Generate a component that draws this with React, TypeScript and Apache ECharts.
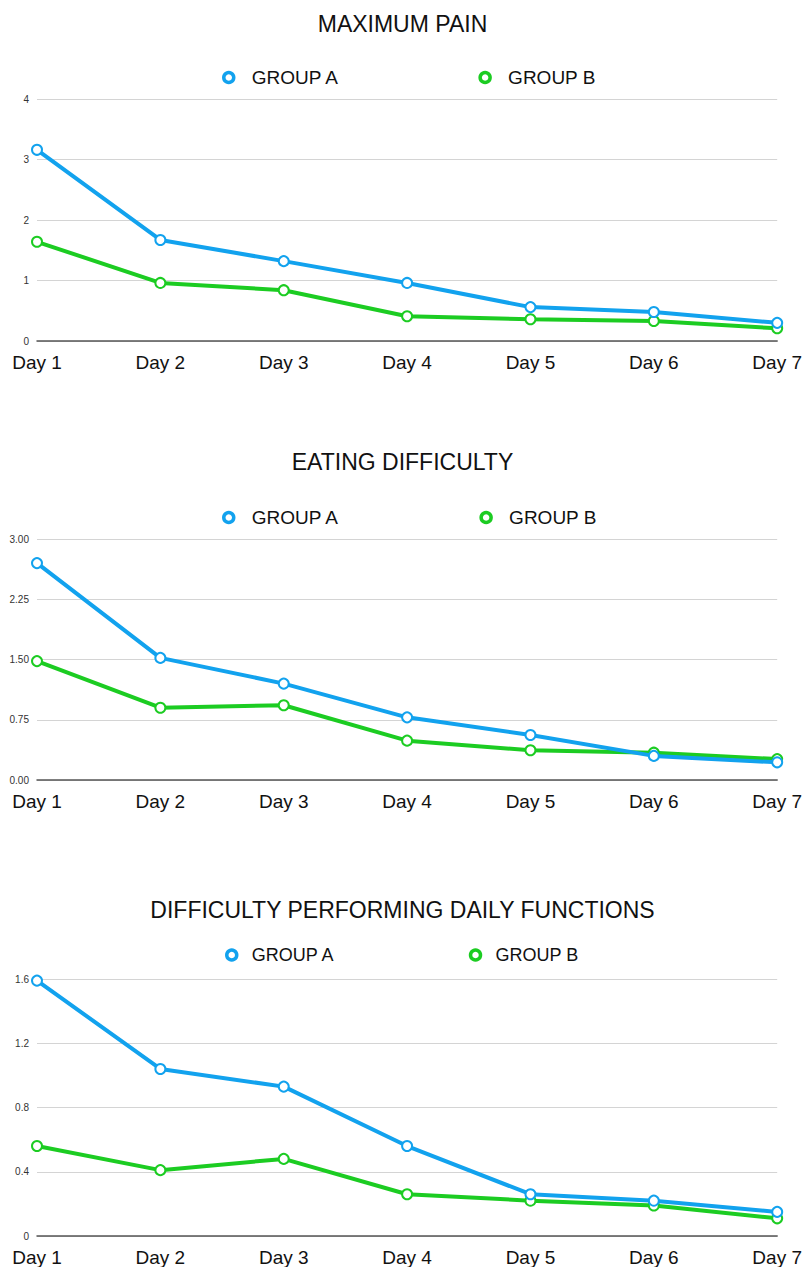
import React, { useEffect, useRef } from "react";
import * as echarts from "echarts";

const days = ["Day 1", "Day 2", "Day 3", "Day 4", "Day 5", "Day 6", "Day 7"];
const seriesNames = ["GROUP A", "GROUP B"];
const titles = ["MAXIMUM PAIN", "EATING DIFFICULTY", "DIFFICULTY PERFORMING DAILY FUNCTIONS"];

const painA = [3.16, 1.67, 1.32, 0.96, 0.56, 0.48, 0.3];
const painB = [1.64, 0.96, 0.84, 0.41, 0.36, 0.33, 0.21];

const eatingA = [2.7, 1.52, 1.2, 0.78, 0.56, 0.3, 0.22];
const eatingB = [1.48, 0.9, 0.93, 0.49, 0.37, 0.34, 0.26];

const dailyA = [1.59, 1.04, 0.93, 0.56, 0.26, 0.22, 0.15];
const dailyB = [0.56, 0.41, 0.48, 0.26, 0.22, 0.19, 0.11];

const yAxes = [
  { min: 0, max: 4, interval: 1, decimals: 0 },
  { min: 0, max: 3, interval: 0.75, decimals: 2 },
  { min: 0, max: 1.6, interval: 0.4, decimals: -1 },
];

const COLOR_A = "#12a2ee";
const COLOR_B = "#1ccc22";
const FONT = "'Liberation Sans', Arial, Helvetica, sans-serif";

export default function App() {
  const ref = useRef<HTMLDivElement>(null);
  useEffect(() => {
    if (!ref.current) return;
    const chart = echarts.init(ref.current, null, { renderer: "svg" });
    const data = [
      [painA, painB],
      [eatingA, eatingB],
      [dailyA, dailyB],
    ];
    const gridTops = [99, 539, 979];
    const gridHeights = [242, 241, 257];
    const titleTops = [7, 445, 893];
    const legendTops = [63, 503, 941];
    const legendLefts = [217, 217, 220];
    const legendGaps = [139, 140, 134];
    const legendFont = [19, 19, 18];
    const legendPad = [13, 13, 10];
    const colors = [COLOR_A, COLOR_B];

    const series: any[] = [];
    data.forEach((pair, gi) => {
      pair.forEach((vals, si) => {
        const c = colors[si];
        series.push({
          type: "line",
          name: seriesNames[si],
          xAxisIndex: gi,
          yAxisIndex: gi,
          data: vals,
          symbol: "emptyCircle",
          symbolSize: 10,
          lineStyle: { color: c, width: 4 },
          itemStyle: { color: c, borderColor: c, borderWidth: 3 },
          z: si === 0 ? 3 : 2,
        });
      });
    });

    chart.setOption({
      animation: false,
      backgroundColor: "#ffffff",
      title: titles.map((t, i) => ({
        text: t,
        left: "center",
        top: titleTops[i],
        textStyle: { fontFamily: FONT, fontSize: 23, fontWeight: "normal", color: "#111" },
      })),
      legend: [0, 1, 2].map((i) => ({
        data: seriesNames.map((n, si) => ({
          name: n,
          icon: "circle",
          itemStyle: { color: "#ffffff", borderColor: colors[si], borderWidth: 3.5 },
        })),
        top: legendTops[i],
        left: legendLefts[i],
        itemGap: legendGaps[i],
        itemWidth: 10,
        itemHeight: 10,
        textStyle: {
          fontFamily: FONT,
          fontSize: legendFont[i],
          color: "#111",
          padding: [0, 0, 0, legendPad[i]],
        },
        selectedMode: false,
      })),
      grid: [0, 1, 2].map((i) => ({
        left: 37,
        width: 743,
        top: gridTops[i],
        height: gridHeights[i],
        containLabel: false,
      })),
      xAxis: [0, 1, 2].map((i) => ({
        type: "category",
        gridIndex: i,
        data: days,
        boundaryGap: false,
        axisTick: { show: false },
        axisLine: { show: true, lineStyle: { color: "#555", width: 1.5 } },
        axisLabel: { fontFamily: FONT, fontSize: 19, color: "#111", margin: 12 },
      })),
      yAxis: yAxes.map((y, i) => ({
        type: "value",
        gridIndex: i,
        min: y.min,
        max: y.max,
        interval: y.interval,
        axisLine: { show: false },
        axisTick: { show: false },
        splitLine: { lineStyle: { color: "#d4d4d4", width: 1.2 } },
        axisLabel: {
          fontFamily: FONT,
          fontSize: 10,
          color: "#333",
          margin: 8,
          formatter: (v: number) =>
            y.decimals >= 0 ? v.toFixed(y.decimals) : String(Math.round(v * 10) / 10),
        },
      })),
      series,
    });
    return () => chart.dispose();
  }, []);
  return (
    <div
      ref={ref}
      style={{ position: "absolute", left: 0, top: 0, width: 805, height: 1267, background: "#fff" }}
    />
  );
}
